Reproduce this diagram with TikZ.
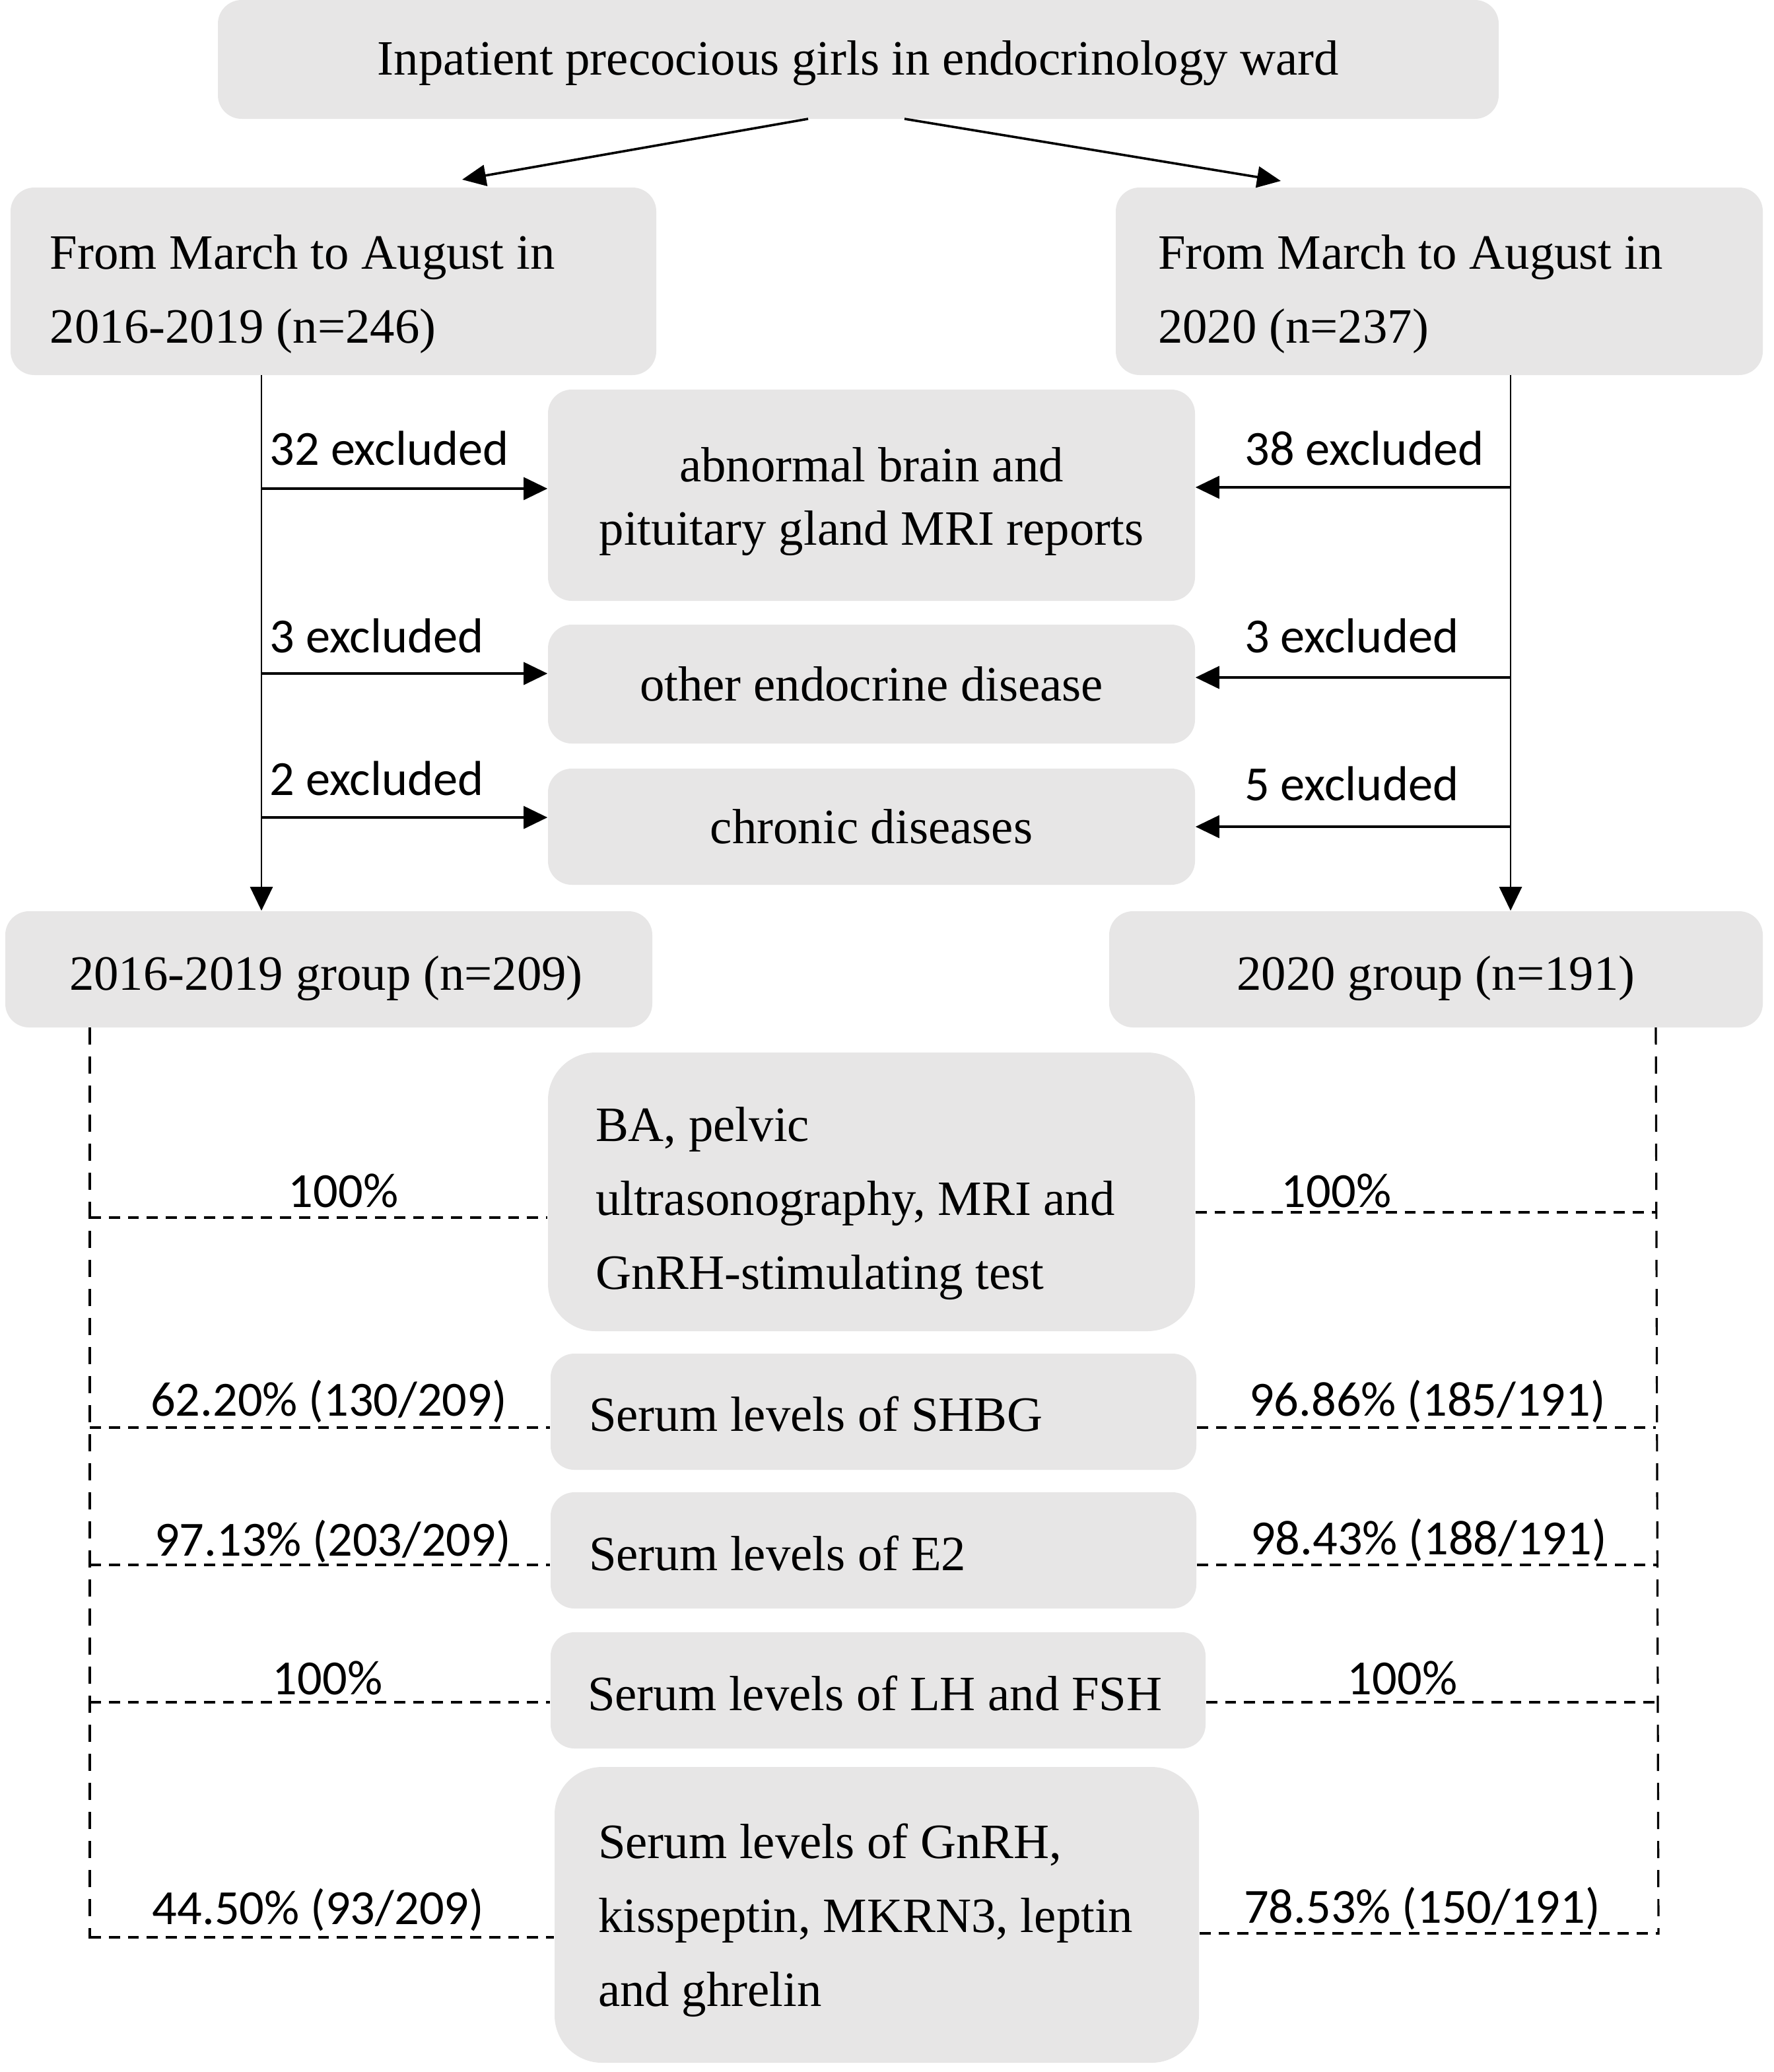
\documentclass[tikz,border=0pt]{standalone}
\usepackage{fontspec}
\setmainfont{Liberation Serif}
\newfontfamily\calib{Carlito}
\usetikzlibrary{arrows.meta}
\definecolor{boxgray}{HTML}{E7E6E6}
\begin{document}
\begin{tikzpicture}[x=0.5pt,y=-0.5pt,
  box/.style={fill=boxgray, rounded corners=9pt, inner sep=0pt},
  tallbox/.style={box, rounded corners=18pt},
  txt/.style={inner sep=0pt, align=center, font=\fontsize{18.7}{28}\selectfont},
  ltxt/.style={txt, align=flush left},
  lbl/.style={inner sep=0pt, font=\calib\fontsize{18.6}{22}\selectfont},
  varr/.style={-{Triangle[length=9pt,width=8.5pt]}, line width=0.7pt},
  harr/.style={-{Triangle[length=9pt,width=8.5pt]}, line width=0.9pt},
  darr/.style={-{Triangle[length=9pt,width=8pt]}, line width=0.9pt},
  dline/.style={dash pattern=on 4.2pt off 3pt, line width=0.8pt},
  vdline/.style={dash pattern=on 6.5pt off 4.5pt, line width=0.8pt}]
\useasboundingbox (0,0) rectangle (1343.5,1569);

% boxes
\node[box, minimum width=485pt, minimum height=45pt] (top) at (650,45) {};
\node[box, minimum width=244.5pt, minimum height=71pt] (L1) at (252.5,213) {};
\node[box, minimum width=245pt, minimum height=71pt] (R1) at (1090,213) {};
\node[box, minimum width=245pt, minimum height=80pt] (abn) at (660,375) {};
\node[box, minimum width=245pt, minimum height=45pt] (oth) at (660,518) {};
\node[box, minimum width=245pt, minimum height=44pt] (chr) at (660,626) {};
\node[box, minimum width=245pt, minimum height=44pt] (G1) at (249,734) {};
\node[box, minimum width=247.5pt, minimum height=44pt] (G2) at (1087.5,734) {};
\node[tallbox, minimum width=245pt, minimum height=105.5pt] (BA) at (660,902.5) {};
\node[box, minimum width=244.5pt, minimum height=44pt] (SH) at (661.5,1069) {};
\node[box, minimum width=244.5pt, minimum height=44pt] (E2) at (661.5,1174) {};
\node[box, minimum width=248pt, minimum height=44pt] (LH) at (665,1280) {};
\node[tallbox, minimum width=244pt, minimum height=112pt] (Gn) at (664,1450) {};

% box texts
\node[txt] (topt) at ([yshift=-1.5pt]top.center) {Inpatient precocious girls in endocrinology ward};
\node[ltxt, text width=214.5pt] (L1t) at ([yshift=-5pt]L1.center) {From March to August in\\2016-2019 (n=246)};
\node[ltxt, text width=213pt] (R1t) at ([yshift=-5pt]R1.center) {From March to August in\\2020 (n=237)};
\node[txt, font=\fontsize{18.7}{24}\selectfont] (abnt) at ([yshift=-2.5pt]abn.center) {abnormal brain and\\pituitary gland MRI reports};
\node[txt] (otht) at (oth.center) {other endocrine disease};
\node[txt] (chrt) at (chr.center) {chronic diseases};
\node[txt] (G1t) at ([xshift=-1pt,yshift=-3.5pt]G1.center) {2016-2019 group (n=209)};
\node[txt] (G2t) at ([yshift=-3.5pt]G2.center) {2020 group (n=191)};
\node[ltxt, text width=209pt] (BAt) at ([yshift=-4.5pt]BA.center) {BA, pelvic\\ultrasonography, MRI and\\GnRH-stimulating test};
\node[ltxt, text width=215.5pt] (SHt) at ([yshift=-1pt]SH.center) {Serum levels of SHBG};
\node[ltxt, text width=215.5pt] (E2t) at ([yshift=-1pt]E2.center) {Serum levels of E2};
\node[ltxt, text width=220pt] (LHt) at ([yshift=-1pt]LH.center) {Serum levels of LH and FSH};
\node[ltxt, text width=211pt] (Gnt) at ([yshift=-2pt]Gn.center) {Serum levels of GnRH,\\kisspeptin, MKRN3, leptin\\and ghrelin};

% top split arrows
\coordinate (ta1) at (612,90);
\coordinate (ta2) at (685,90);
\coordinate (tl) at (350,136);
\coordinate (tr) at (970,137);
\draw[darr] (ta1) -- (tl);
\draw[darr] (ta2) -- (tr);

% main verticals
\coordinate (lv) at (198,284);
\coordinate (rv) at (1144,284);
\draw[varr] (lv) -- (lv |- G1.north);
\draw[varr] (rv) -- (rv |- G2.north);

% exclusion arrows
\coordinate (la1) at (198,370);
\coordinate (la2) at (198,510);
\coordinate (la3) at (198,619);
\coordinate (ra1) at (1144,369);
\coordinate (ra2) at (1144,513);
\coordinate (ra3) at (1144,626);
\draw[harr] (la1) -- (la1 -| abn.west);
\draw[harr] (la2) -- (la2 -| oth.west);
\draw[harr] (la3) -- (la3 -| chr.west);
\draw[harr] (ra1) -- (ra1 -| abn.east);
\draw[harr] (ra2) -- (ra2 -| oth.east);
\draw[harr] (ra3) -- (ra3 -| chr.east);

\node[lbl, anchor=base west] (e1) at (204,352) {32 excluded};
\node[lbl, anchor=base west] (e2) at (204,494) {3 excluded};
\node[lbl, anchor=base west] (e3) at (204,602) {2 excluded};
\node[lbl, anchor=base east] (e4) at (1124,352) {38 excluded};
\node[lbl, anchor=base east] (e5) at (1105,494) {3 excluded};
\node[lbl, anchor=base east] (e6) at (1105,606) {5 excluded};

% dashed frame
\coordinate (dlt) at (68,778);
\coordinate (dlb) at (68,1468);
\coordinate (drt) at (1254,778);
\coordinate (drb) at (1256,1465);
\draw[vdline] (dlt) -- (dlb);
\draw[vdline] (drt) -- (drb);

\coordinate (dl1) at (68,922);
\coordinate (dl2) at (68,1081);
\coordinate (dl3) at (68,1185);
\coordinate (dl4) at (68,1289);
\coordinate (dl5) at (68,1467);
\coordinate (dr1) at (1254,918);
\coordinate (dr2) at (1254,1081);
\coordinate (dr3) at (1255,1185);
\coordinate (dr4) at (1255,1289);
\coordinate (dr5) at (1256,1464);
\draw[dline] (dl1) -- (dl1 -| BA.west);
\draw[dline] (dl2) -- (dl2 -| SH.west);
\draw[dline] (dl3) -- (dl3 -| E2.west);
\draw[dline] (dl4) -- (dl4 -| LH.west);
\draw[dline] (dl5) -- (dl5 -| Gn.west);
\draw[dline] (dr1 -| BA.east) -- (dr1);
\draw[dline] (dr2 -| SH.east) -- (dr2);
\draw[dline] (dr3 -| E2.east) -- (dr3);
\draw[dline] (dr4 -| LH.east) -- (dr4);
\draw[dline] (dr5 -| Gn.east) -- (dr5);

% percentages
\node[lbl, anchor=base] (p1) at (260,914) {100\%};
\node[lbl, anchor=base] (q1) at (1012,914) {100\%};
\node[lbl, anchor=base] (p2) at (249,1072) {62.20\% (130/209)};
\node[lbl, anchor=base] (q2) at (1081,1072) {96.86\% (185/191)};
\node[lbl, anchor=base] (p3) at (252,1178) {97.13\% (203/209)};
\node[lbl, anchor=base] (q3) at (1082,1177) {98.43\% (188/191)};
\node[lbl, anchor=base] (p4) at (248,1283) {100\%};
\node[lbl, anchor=base] (q4) at (1062,1283) {100\%};
\node[lbl, anchor=base] (p5) at (241,1457) {44.50\% (93/209)};
\node[lbl, anchor=base] (q5) at (1077,1456) {78.53\% (150/191)};
\end{tikzpicture}
\end{document}
